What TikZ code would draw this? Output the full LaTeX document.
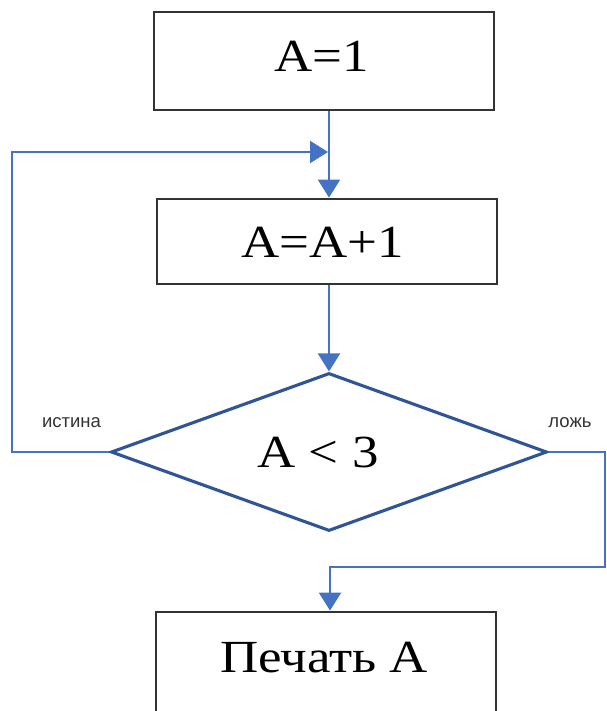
\documentclass[tikz,border=0pt]{standalone}
\usepackage{fontspec}
\setmainfont{Liberation Serif}
\newfontfamily\boxfont[FakeStretch=1.15]{Liberation Serif}
\newfontfamily\lblfont{Liberation Sans}
\usetikzlibrary{arrows.meta,shapes.geometric}
\definecolor{flow}{HTML}{4472C4}
\definecolor{dia}{HTML}{2F5597}
\tikzset{
  x=1pt,y=-1pt,
  procbox/.style={draw=black!80,line width=2.8pt,minimum width=340pt,inner sep=0pt},
  boxtext/.style={anchor=base,inner sep=0pt,font=\boxfont\fontsize{46}{48}\selectfont},
  decision/.style={diamond,aspect=2.76,draw=dia,line width=3.1pt,minimum width=436pt,minimum height=158pt,inner sep=0pt},
  flowline/.style={draw=flow,line width=2.2pt},
  flowarrow/.style={flowline,-{Triangle[length=18pt,width=22pt]}},
  lbl/.style={anchor=base,inner sep=0pt,font=\lblfont\fontsize{18.5}{20}\selectfont,text=black!80},
}
\begin{document}
\begin{tikzpicture}
\useasboundingbox (0,0) rectangle (606,711);
\clip (0,0) rectangle (606,711);
\node[procbox,minimum height=98pt] (b1) at (324,61) {};
\node[procbox,minimum height=85pt] (b2) at (327,241.5) {};
\node[decision] (d) at (329,452) {};
\node[procbox,minimum height=110pt] (b3) at (326,667) {};
\node[boxtext] (t1) at (321.5,72) {A=1};
\node[boxtext] (t2) at (322.5,257) {A=A+1};
\node[boxtext] (t3) at (318,467) {A < 3};
\node[boxtext] (t4) at (324,672) {Печать А};
\coordinate (j1) at (329,152);
\coordinate (lc) at (12,452);
\coordinate (rc) at (605,452);
\coordinate (rb) at (605,567);
\coordinate (bc) at (330,567);
\draw[flowarrow] (b1.south -| j1) -- (b2.north -| j1);
\draw[flowarrow] (d.west) -- (lc) -- (lc |- j1) -- ([xshift=-1pt]j1);
\draw[flowarrow] (b2.south -| d.north) -- (d.north);
\draw[flowarrow] (d.east) -- (rc) -- (rb) -- (bc) -- (bc |- b3.north);
\node[lbl] (t) at (71.5,427) {истина};
\node[lbl] (f) at (570,427) {ложь};
\end{tikzpicture}
\end{document}
